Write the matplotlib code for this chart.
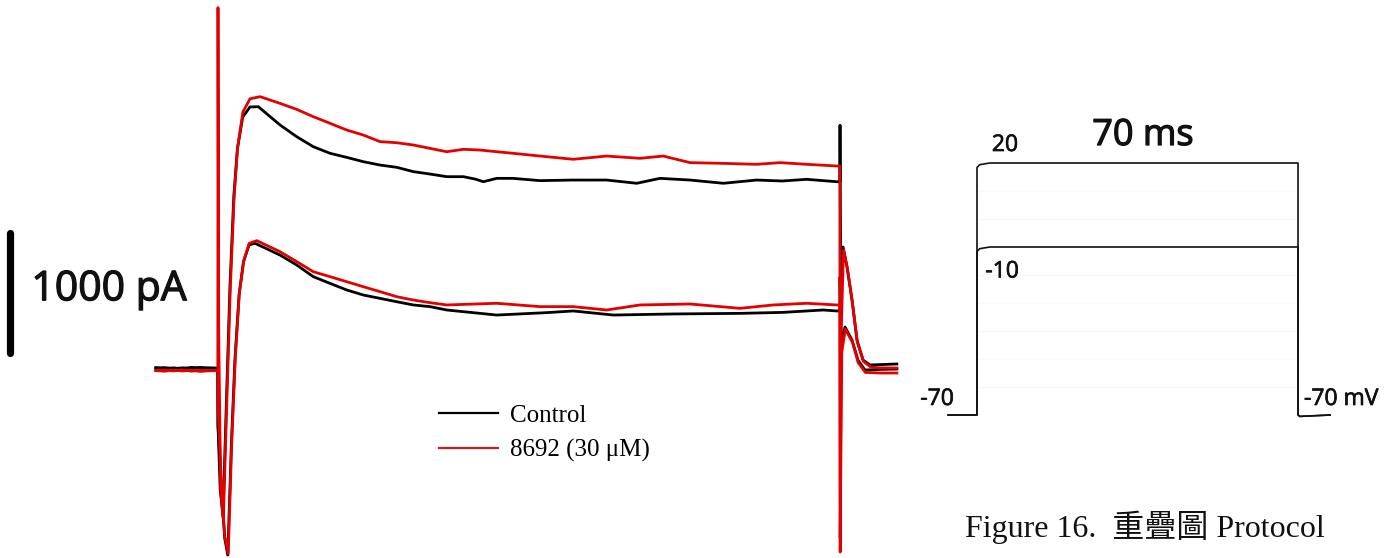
import matplotlib
matplotlib.use("Agg")
import matplotlib.pyplot as plt
import matplotlib.patheffects as pe
from matplotlib.lines import Line2D

W, H = 1396, 558
DPI = 100

# ---------------- data: whole-cell currents (ms, pA) ----------------
ctrl_hi_t = [-7.0, -6.0, -5.0, -4.0, -3.0, -2.0, -1.0, -0.02, 0.0, 0.25, 0.56, 0.98, 1.35, 1.78,
             2.18, 2.78, 3.6, 4.54, 6.98, 8.86, 10.72, 12.60, 14.48, 16.35, 18.23, 20.11, 21.98,
             23.86, 25.74, 27.61, 29.0, 29.86, 31.36, 33.2, 36.24, 39.98, 43.74, 47.12, 49.74,
             53.12, 56.87, 60.62, 63.5, 66.25, 69.63, 69.98, 70.0, 70.08, 70.34, 70.79, 71.35,
             71.91, 72.59, 73.37, 74.5, 76.4]
ctrl_hi_i = [15, 20, 10, 18, 12, 22, 14, 15, -460, -1000, -1217, -175, 708, 1450,
             1842, 2108, 2192, 2194, 2042, 1944, 1861, 1806, 1772, 1736, 1708, 1689, 1653,
             1633, 1611, 1611, 1590, 1569, 1597, 1597, 1578, 1583, 1583, 1556, 1597,
             1583, 1556, 1583, 1575, 1589, 1569, 1569, 2040, 700, 1025, 858, 583,
             250, 83, 42, 45, 50]

drug_hi_t = [-7.0, -6.0, -5.0, -4.0, -3.0, -2.0, -1.0, -0.02, 0.0, 0.08, 0.3, 0.6, 1.0, 1.37,
             1.8, 2.2, 2.8, 3.6, 4.73, 6.98, 8.86, 10.72, 12.60, 14.48, 16.35, 18.23, 20.11,
             21.98, 23.86, 25.74, 27.61, 29.48, 31.36, 33.2, 36.24, 39.98, 43.74, 47.49, 50.11,
             53.12, 56.87, 60.62, 63.24, 66.25, 69.63, 69.98, 70.02, 70.12, 70.4, 70.85, 71.4,
             71.95, 72.65, 73.45, 74.5, 76.4]
drug_hi_i = [-5, 0, -8, 2, -10, -3, -6, -5, 3020, 300, -1000, -1250, -250, 650,
             1420, 1850, 2150, 2260, 2278, 2222, 2172, 2111, 2056, 2000, 1958, 1903, 1894,
             1875, 1847, 1819, 1839, 1833, 1819, 1806, 1783, 1756, 1783, 1764, 1783,
             1728, 1722, 1714, 1728, 1714, 1700, 1700, -1517, 300, 1000, 840, 560,
             230, 70, 25, 18, 17]

ctrl_lo_t = [-7.0, -6.0, -5.0, -4.0, -3.0, -2.0, -1.0, -0.02, 0.0, 0.35, 0.75, 1.1, 1.5, 1.9,
             2.37, 2.86, 3.5, 4.16, 6.98, 8.86, 10.72, 12.60, 14.48, 16.35, 18.23, 20.11, 21.98,
             23.86, 25.74, 27.61, 31.36, 36.99, 39.98, 44.49, 51.24, 58.74, 63.5, 68.12, 69.63,
             69.98, 70.0, 70.15, 70.56, 71.35, 72.02, 72.8, 74.5, 76.4]
ctrl_lo_i = [20, 12, 18, 10, 22, 15, 18, 15, -460, -950, -1400, -1542, -625, 83,
             625, 900, 1042, 1056, 958, 875, 778, 722, 667, 625, 597, 569, 542,
             528, 500, 486, 458, 478, 492, 458, 467, 472, 480, 500, 492,
             492, 775, 210, 358, 250, 83, 0, 5, 8]

drug_lo_t = [-7.0, -6.0, -5.0, -4.0, -3.0, -2.0, -1.0, -0.02, 0.0, 0.35, 0.75, 1.15, 1.55, 1.95,
             2.4, 2.9, 3.5, 4.36, 6.98, 8.86, 10.72, 12.60, 14.48, 16.35, 18.23, 20.11, 21.98,
             23.86, 25.74, 31.36, 36.24, 39.98, 43.74, 47.49, 53.12, 58.74, 62.49, 66.25, 69.63,
             69.98, 70.02, 70.2, 70.6, 71.4, 72.05, 72.85, 74.5, 76.4]
drug_lo_i = [-5, -10, 0, -8, -2, -12, -6, -5, -300, -900, -1380, -1530, -600, 100,
             640, 910, 1055, 1078, 986, 903, 819, 778, 736, 694, 653, 611, 583,
             561, 542, 556, 528, 528, 500, 542, 550, 514, 542, 556, 542,
             542, -1400, 150, 340, 230, 60, -20, -25, -25]

legend_labels = ["Control", "8692 (30 \u03bcM)"]
scale_bar_pA = 1000
scale_bar_label = "1000 pA"

# ---------------- data: voltage protocol (ms, mV) ----------------
hold_mV = -70
step_mV = [20, -10]
ghost_step_mV = [10, 0, -20, -30, -40, -50, -60]
pre_ms, step_ms, post_ms = 6.3, 70, 7.0
step_labels = ["20", "-10"]
duration_label = "70 ms"
caption = "Figure 16.  \u91cd\u758a\u5716 Protocol"

# ---------------- figure ----------------
fig = plt.figure(figsize=(W / DPI, H / DPI), dpi=DPI)
fig.patch.set_facecolor("white")


def full_axes(x0, sx, y0, sy, t0=0.0, v0=0.0):
    """axes covering the whole figure; data (t0, v0) sits at pixel (x0, y0)."""
    ax = fig.add_axes([0, 0, 1, 1])
    ax.set_xlim(t0 - x0 / sx, t0 + (W - x0) / sx)
    ax.set_ylim(v0 - (H - y0) / sy, v0 + y0 / sy)
    ax.axis("off")
    ax.patch.set_alpha(0)
    return ax


# current traces
ax = full_axes(218, 8.886, 370, 0.12)
BLACK = "#000000"
RED = "#e30000"
lw = 2.0
ax.plot(ctrl_hi_t, ctrl_hi_i, color=BLACK, lw=lw, solid_joinstyle="round")
ax.plot(ctrl_lo_t, ctrl_lo_i, color=BLACK, lw=lw, solid_joinstyle="round")
ax.plot(drug_hi_t, drug_hi_i, color=RED, lw=lw, solid_joinstyle="round")
ax.plot(drug_lo_t, drug_lo_i, color=RED, lw=lw, solid_joinstyle="round")

bold_big = [pe.withStroke(linewidth=0.9, foreground="#111111")]
bold_small = [pe.withStroke(linewidth=0.5, foreground="#111111")]

# scale bar
bar_t = -23.4
ax.plot([bar_t, bar_t], [142, 142 + scale_bar_pA], color=BLACK, lw=5.2, solid_capstyle="round")
fig.text(109 / W, 1 - 290 / H, scale_bar_label, fontsize=29.5, family="Open Sans",
         ha="center", va="center", color="#111111", path_effects=bold_big)

leg_handles = [Line2D([], [], color=BLACK, lw=1.6), Line2D([], [], color="#c81e1e", lw=1.6)]
leg = ax.legend(leg_handles, legend_labels, loc="upper left",
                bbox_to_anchor=(439 / W, 1 - 404 / H), bbox_transform=fig.transFigure,
                frameon=False, borderpad=0, borderaxespad=0, handlelength=2.35,
                handletextpad=0.5, labelspacing=0.5,
                prop={"family": "Liberation Serif", "size": 18})

# voltage protocol
axp = full_axes(977, 4.586, 415, 2.8, t0=0.0, v0=hold_mV)
for v in ghost_step_mV:
    axp.plot([0.3, step_ms - 0.3], [v, v], color="#f8f8f8", lw=1.0)
for v in step_mV:
    axp.plot([-pre_ms, 0, 0, 0.6, 2.8, step_ms, step_ms, step_ms + 0.4, step_ms + post_ms],
             [hold_mV, hold_mV, v - 1.6, v - 0.6, v, v, hold_mV, hold_mV - 0.5, hold_mV],
             color="#111111", lw=1.2)

tfont = {"family": "Open Sans", "color": "#111111"}
fig.text(1143 / W, 1 - 136 / H, duration_label, fontsize=26,
         ha="center", va="center", path_effects=bold_big, **tfont)
fig.text(1005 / W, 1 - 145 / H, step_labels[0], fontsize=16.5, ha="center", va="center",
         path_effects=bold_small, **tfont)
fig.text(1002 / W, 1 - 271.5 / H, step_labels[1], fontsize=16.5, ha="center", va="center",
         path_effects=bold_small, **tfont)
fig.text(937 / W, 1 - 399 / H, "-70", fontsize=16.5, ha="center", va="center",
         path_effects=bold_small, **tfont)
fig.text(1304 / W, 1 - 399 / H, "-70 mV", fontsize=16.5, ha="left", va="center",
         path_effects=bold_small, **tfont)

fig.text(965 / W, 1 - 537 / H, caption, fontsize=23, ha="left", va="baseline",
         family=["Liberation Serif", "Noto Sans CJK TC"], color="#111111")

fig.savefig("out.png", dpi=DPI, facecolor="white")
